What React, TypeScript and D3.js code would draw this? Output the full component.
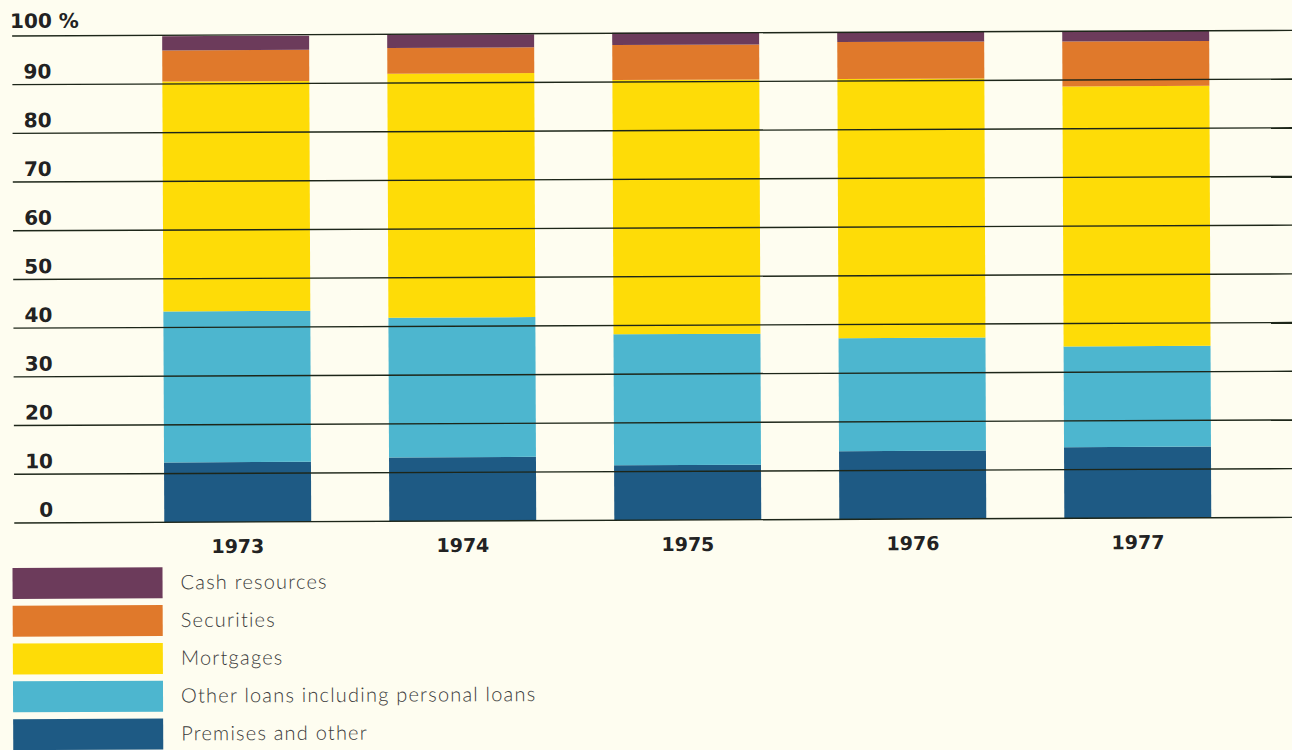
import React, { useEffect, useRef } from 'react'
import * as d3 from 'd3'

const years = ['1973', '1974', '1975', '1976', '1977']
const seriesNames = ['Premises and other', 'Other loans including personal loans', 'Mortgages', 'Securities', 'Cash resources']
const premises = [12.3, 13.1, 11.3, 14.0, 14.6]
const otherLoans = [31.0, 28.7, 26.9, 23.2, 20.7]
const mortgages = [47.2, 50.1, 52.2, 53.2, 53.4]
const securities = [6.4, 5.3, 7.2, 7.6, 9.2]
const cash = [2.9, 2.7, 2.5, 2.0, 2.1]
const colors = ['#1e5a84', '#4db6cf', '#fedc07', '#e0792b', '#6c3b5b']
const ticks = [0, 10, 20, 30, 40, 50, 60, 70, 80, 90]
const legendOrder = ['Cash resources', 'Securities', 'Mortgages', 'Other loans including personal loans', 'Premises and other']

export default function App() {
  const ref = useRef<SVGSVGElement>(null)
  useEffect(() => {
    const el = ref.current
    if (!el) return
    const W = 1292, H = 750
    const svg = d3.select(el)
    svg.selectAll('*').remove()
    svg.append('rect').attr('width', W).attr('height', H).attr('fill', '#fefdf0')
    // the scan is tilted slightly
    const g = svg.append('g').attr('transform', 'rotate(-0.25)')

    const rows = years.map((yr, i) => ({
      year: yr,
      [seriesNames[0]]: premises[i],
      [seriesNames[1]]: otherLoans[i],
      [seriesNames[2]]: mortgages[i],
      [seriesNames[3]]: securities[i],
      [seriesNames[4]]: cash[i],
    }))
    const stacked = d3.stack<any>().keys(seriesNames)(rows)
    const color = d3.scaleOrdinal<string, string>().domain(seriesNames).range(colors)

    const x = d3.scaleBand().domain(years).range([162, 1209]).paddingInner(0.347).paddingOuter(0)
    const y = d3.scaleLinear().domain([0, 100]).range([523, 36])

    g.selectAll('g.layer').data(stacked).enter().append('g')
      .attr('fill', d => color(d.key))
      .selectAll('rect').data(d => d).enter().append('rect')
      .attr('x', d => x(d.data.year)!)
      .attr('y', d => y(d[1]))
      .attr('width', x.bandwidth())
      .attr('height', d => y(d[0]) - y(d[1]))

    // gridlines over bars
    g.selectAll('line.grid').data([...ticks, 100]).enter().append('line')
      .attr('x1', 12).attr('x2', 1330)
      .attr('y1', d => y(d)).attr('y2', d => y(d))
      .attr('stroke', '#1d2619').attr('stroke-width', 1.4)

    g.selectAll('text.tick').data(ticks).enter().append('text')
      .attr('x', 51).attr('y', d => y(d) - 6)
      .attr('text-anchor', 'end')
      .attr('font-family', 'DejaVu Sans').attr('font-weight', 'bold').attr('font-size', 20)
      .attr('fill', '#222')
      .text(d => String(d))
    g.append('text').attr('x', 10).attr('y', y(100) - 8)
      .attr('font-family', 'DejaVu Sans').attr('font-weight', 'bold').attr('font-size', 20)
      .attr('fill', '#222').text('100 %')

    g.selectAll('text.year').data(years).enter().append('text')
      .attr('x', d => x(d)! + x.bandwidth() / 2).attr('y', 554)
      .attr('text-anchor', 'middle')
      .attr('font-family', 'DejaVu Sans').attr('font-weight', 'bold').attr('font-size', 19)
      .attr('fill', '#222')
      .text(d => d)

    const leg = g.selectAll('g.leg').data(legendOrder).enter().append('g')
      .attr('transform', (d, i) => `translate(10, ${568 + i * 37.8})`)
    leg.append('rect').attr('width', 150).attr('height', 31).attr('fill', d => color(d))
    leg.append('text').attr('x', 168).attr('y', 22)
      .attr('font-family', 'Lato').attr('font-weight', 300).attr('font-size', 20)
      .attr('letter-spacing', 1.2)
      .attr('fill', '#3a3a3a')
      .text(d => d)
  }, [])

  return (
    <svg ref={ref} width={1292} height={750} viewBox="0 0 1292 750"
      style={{ position: 'absolute', left: 0, top: 0, display: 'block' }} />
  )
}
